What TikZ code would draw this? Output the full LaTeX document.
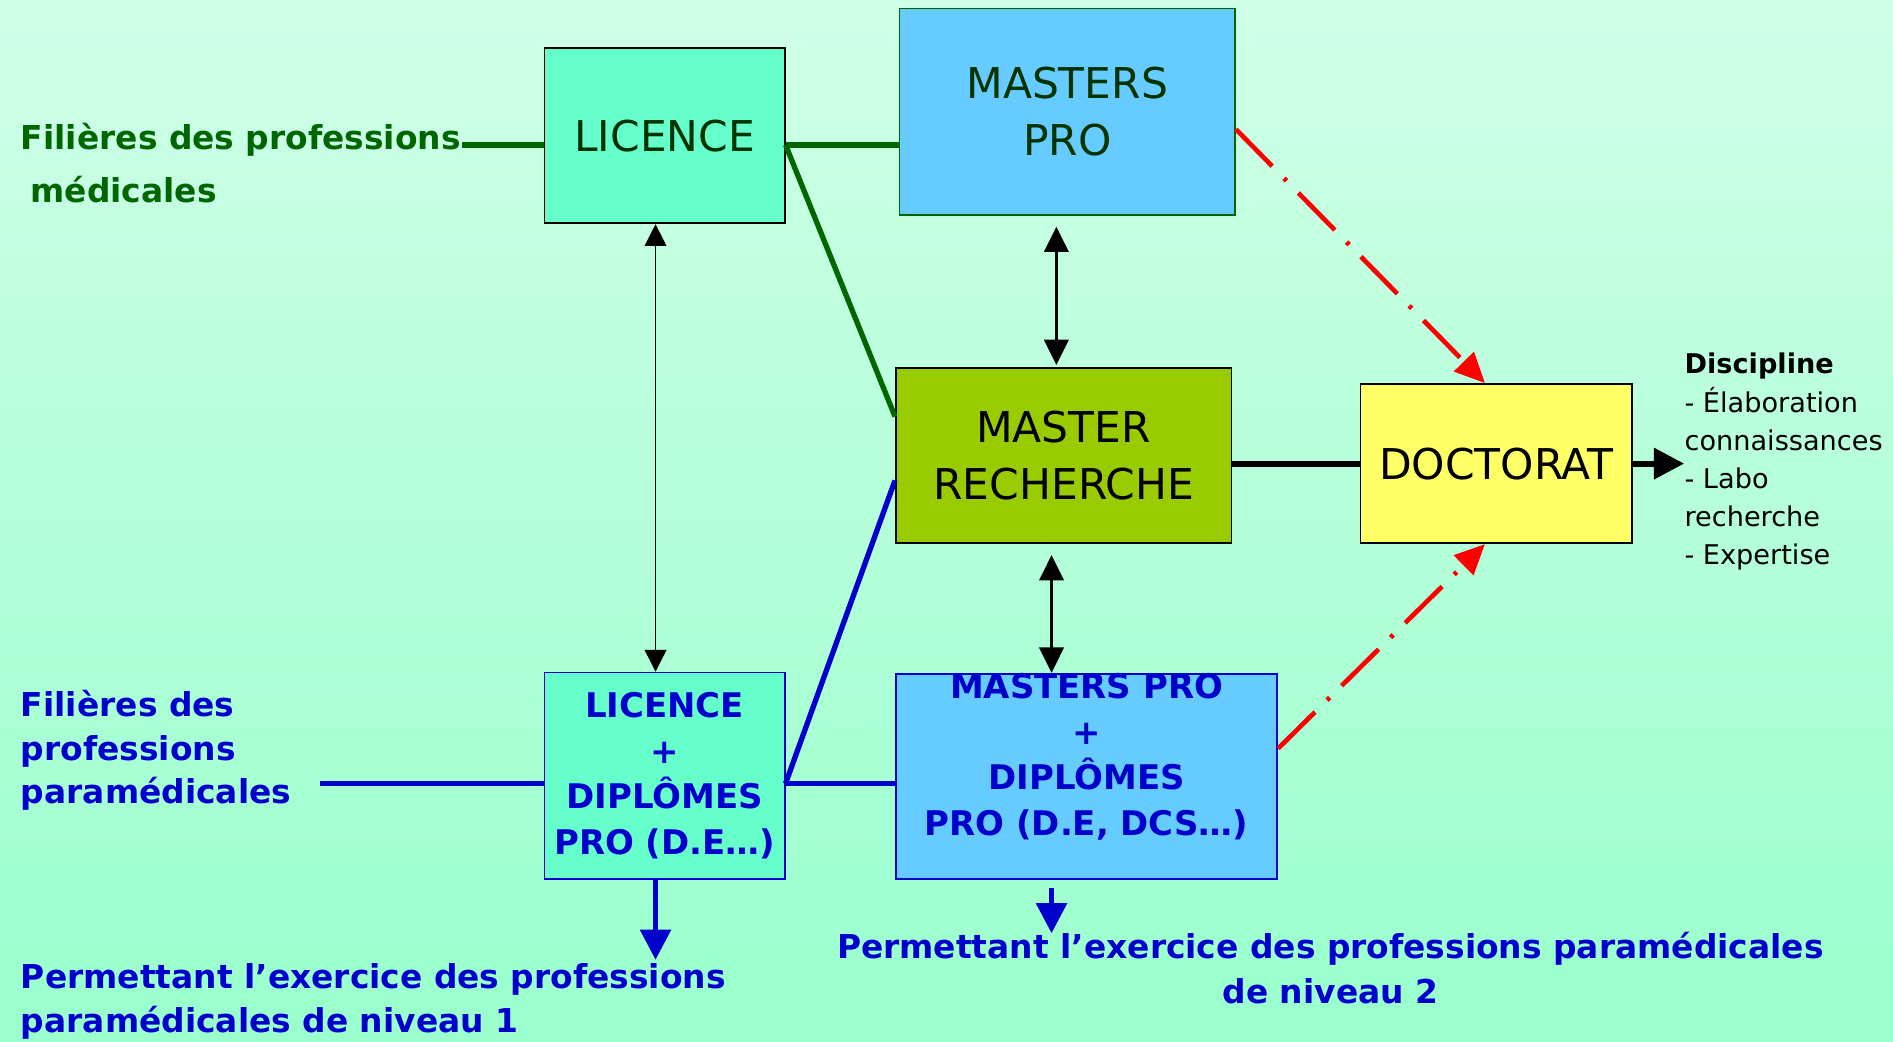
\documentclass[tikz,border=0pt]{standalone}
\usepackage{fontspec}
\setmainfont{DejaVu Sans}
\usetikzlibrary{calc,positioning,arrows.meta}

\definecolor{bgtop}{HTML}{D0FFE8}
\definecolor{bgbottom}{HTML}{99FFCC}
\definecolor{licfill}{HTML}{66FFCC}
\definecolor{masterfill}{HTML}{66CCFF}
\definecolor{rechfill}{HTML}{99CC00}
\definecolor{doctfill}{HTML}{FFFF66}
\definecolor{medgreen}{HTML}{006600}
\definecolor{darkgreentxt}{HTML}{003300}
\definecolor{parablue}{HTML}{0000CC}
\definecolor{dashred}{HTML}{FF0000}

\begin{document}
\begin{tikzpicture}[x=0.02cm,y=-0.02cm,
    box/.style={draw,line width=0.8pt,inner sep=0pt,align=center},
    bigtext/.style={font=\fontsize{20}{27}\selectfont},
    bluetext/.style={text=parablue,align=center,font=\fontsize{16}{21.5}\selectfont\bfseries},
    medline/.style={medgreen,line width=2.5pt},
    paraline/.style={parablue,line width=2.5pt},
    redpath/.style={dashred,line width=2.2pt,dash pattern=on 0.86cm off 0.28cm on 0.06cm off 0.28cm,
      -{Triangle[width=0.45cm,length=0.5cm]}}]

    % background
    \shade[top color=bgtop,bottom color=bgbottom] (0,0) rectangle (1568,863);
    \useasboundingbox (0,0) rectangle (1568,863);

    % boxes
    \node[box,fill=licfill,minimum width=3.98cm,minimum height=2.9cm,bigtext,text=darkgreentxt] (lic) at (550.5,112.5) {LICENCE};
    \node[box,draw=medgreen,fill=masterfill,minimum width=5.56cm,minimum height=3.42cm,bigtext,text=darkgreentxt] (mpro) at (884,92.5) {MASTERS\\PRO};
    \node[box,fill=rechfill,minimum width=5.56cm,minimum height=2.9cm,bigtext] (mrech) at (881,377.5) {MASTER\\RECHERCHE};
    \node[box,fill=doctfill,minimum width=4.5cm,minimum height=2.64cm,bigtext] (doct) at (1239.5,384) {DOCTORAT};
    \node[box,draw=parablue,fill=licfill,minimum width=3.98cm,minimum height=3.42cm,bluetext] (licdip) at (550.5,642.5) {LICENCE\\+\\DIPLÔMES\\PRO (D.E…)};
    \node[box,draw=parablue,fill=masterfill,minimum width=6.32cm,minimum height=3.4cm] (mprodip) at (900,643) {};
    \node[bluetext,inner sep=0pt] (mprodiptxt) at ($(mprodip)+(0,-16)$) {MASTERS PRO\\+\\DIPLÔMES\\PRO (D.E, DCS…)};

    % side texts
    \node[anchor=west,inner sep=0pt,align=left,text=medgreen,font=\fontsize{15.5}{25}\selectfont\bfseries] (medtxt) at (17,135) {Filières des professions\\\hspace*{0.16cm}médicales};
    \node[anchor=west,inner sep=0pt,align=left,text=parablue,font=\fontsize{15.5}{20.7}\selectfont\bfseries] (paratxt) at (17,621.5) {Filières des\\professions\\paramédicales};
    \node[anchor=west,inner sep=0pt,align=left,font=\fontsize{12.8}{18}\selectfont] (disctxt) at (1395,382.5) {\textbf{Discipline}\\- Élaboration\\connaissances\\- Labo\\recherche\\- Expertise};
    \node[anchor=west,inner sep=0pt,align=left,text=parablue,font=\fontsize{15.5}{21}\selectfont\bfseries] (niv1txt) at (17,829.5) {Permettant l’exercice des professions\\paramédicales de niveau 1};
    \node[inner sep=0pt,bluetext,font=\fontsize{15.5}{21.5}\selectfont\bfseries] (niv2txt) at (1102,802) {Permettant l’exercice des professions paramédicales\\de niveau 2};

    \coordinate (medin) at (383,120);
    \coordinate (licout) at (lic.east |- medin);
    \coordinate (rechin) at (mrech.west |- 0,345);
    \coordinate (parain) at (265,649);
    \coordinate (licdipout) at (licdip.east |- parain);
    \coordinate (rechinb) at (mrech.west |- 0,398);
    \coordinate (mproout) at (mpro.east |- 0,107);
    \coordinate (mprodipout) at (mprodip.east |- 0,620);
    \coordinate (niv1) at (543,795);
    \coordinate (niv2) at (871,773);

    % green links
    \draw[medline] (medin) -- (medin -| lic.west);
    \draw[medline] (licout) -- (licout -| mpro.west);
    \draw[medline] (licout) -- (rechin);

    % blue links
    \draw[paraline] (parain) -- (parain -| licdip.west);
    \draw[paraline] (licdipout) -- (licdipout -| mprodip.west);
    \draw[paraline] (licdipout) -- (rechinb);
    \draw[paraline,-{Triangle[width=0.5cm,length=0.5cm]}] (licdip.south -| niv1) -- (niv1);
    \draw[paraline,-{Triangle[width=0.5cm,length=0.5cm]}] ($(mprodip.south -| niv2)+(0,7)$) -- (niv2);

    % black arrows
    \draw[line width=0.6pt,{Triangle[width=0.36cm,length=0.36cm]}-{Triangle[width=0.36cm,length=0.36cm]}] (lic.south -| 543,0) -- (licdip.north -| 543,0);
    \draw[line width=1.7pt,{Triangle[width=0.4cm,length=0.42cm]}-{Triangle[width=0.4cm,length=0.42cm]},shorten <=9*0.02cm,shorten >=2*0.02cm] (mpro.south -| 875,0) -- (mrech.north -| 875,0);
    \draw[line width=1.7pt,{Triangle[width=0.4cm,length=0.42cm]}-{Triangle[width=0.4cm,length=0.42cm]},shorten <=9*0.02cm] (mrech.south -| 871,0) -- (mprodip.north -| 871,0);
    \draw[line width=2.8pt] (mrech.east |- doct.west) -- (doct.west);
    \draw[line width=2.8pt,-{Triangle[width=0.5cm,length=0.5cm]}] (doct.east) -- (doct.east -| disctxt.west);

    % red dash-dot links
    \draw[redpath] (mproout) -- (doct.north -| 1230,0);
    \draw[redpath] (mprodipout) -- (doct.south -| 1230,0);
\end{tikzpicture}
\end{document}
